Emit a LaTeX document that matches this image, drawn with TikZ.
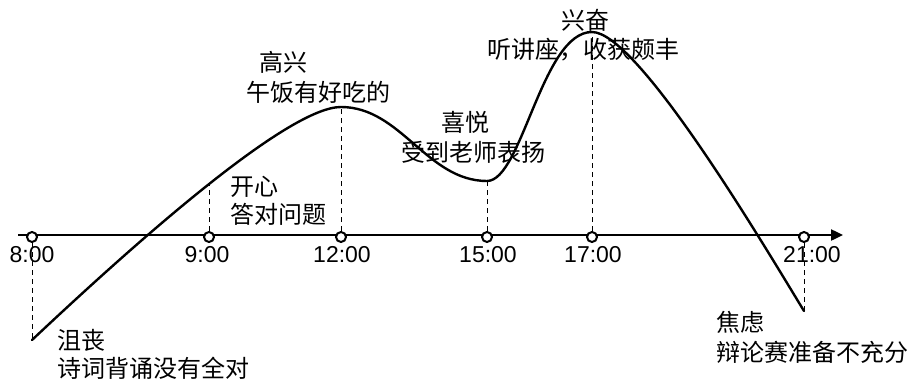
\documentclass[tikz,border=0pt]{standalone}
\usepackage{fontspec}
\setmainfont{Liberation Sans}
\newfontfamily\cjk{Noto Sans CJK SC}
\usetikzlibrary{arrows.meta}
\tikzset{
  axisline/.style={line width=2.4pt},
  moodcurve/.style={line width=2.4pt, line join=round, line cap=round},
  guide/.style={line width=1pt, dash pattern=on 5pt off 4pt},
  tickmark/.style={circle, draw, fill=white, line width=2pt, minimum size=10pt, inner sep=0pt},
  timelbl/.style={inner sep=0pt, font=\fontsize{23}{23}\selectfont},
  moodlbl/.style={anchor=west, inner sep=0pt, font=\cjk\fontsize{24}{24}\selectfont}
}
\begin{document}
\begin{tikzpicture}[x=1pt,y=-1pt]
\useasboundingbox (0,0) rectangle (916,380);
% axis
\coordinate (axS) at (18,235);
\coordinate (axE) at (843,235);
\draw[axisline,-{Triangle[length=12pt,width=11pt]}] (axS) -- (axE);
% curve points
\coordinate (p8) at (32,340);
\coordinate (p9) at (209,183);
\coordinate (p12) at (341,107);
\coordinate (p15) at (487,181);
\coordinate (p17) at (592,32);
\coordinate (p21) at (804,311);
% curve
\draw[moodcurve] (p8) .. controls (152,227) and (291,107) .. (p12)
  .. controls (401,107) and (427,181) .. (p15)
  .. controls (522,181) and (542,32) .. (p17)
  .. controls (637,32) and (759,237) .. (p21);
% ticks
\node[tickmark] (t8) at (32,237) {};
\node[tickmark] (t9) at (209,237) {};
\node[tickmark] (t12) at (341,237) {};
\node[tickmark] (t15) at (487,237) {};
\node[tickmark] (t17) at (592,237) {};
\node[tickmark] (t21) at (804,237) {};
% guides
\draw[guide] (t8.south) -- (p8);
\draw[guide] (t9.north) -- (p9);
\draw[guide] (t12.north) -- (p12);
\draw[guide] (t15.north) -- (p15);
\draw[guide] (t17.north) -- (p17);
\draw[guide] (t21.south) -- (p21);
% time labels
\node[timelbl] (l8) at (32,255) {8:00};
\node[timelbl] (l9) at (207,255) {9:00};
\node[timelbl] (l12) at (342,255) {12:00};
\node[timelbl] (l15) at (488,255) {15:00};
\node[timelbl] (l17) at (593,255) {17:00};
\node[timelbl] (l21) at (812,255) {21:00};
% mood labels
\node[moodlbl] (m8a) at (57,340) {沮丧};
\node[moodlbl] (m8b) at (57,368) {诗词背诵没有全对};
\node[moodlbl] (m9a) at (230,187) {开心};
\node[moodlbl] (m9b) at (230,214) {答对问题};
\node[moodlbl] (m12a) at (259,62) {高兴};
\node[moodlbl] (m12b) at (246,92) {午饭有好吃的};
\node[moodlbl] (m15a) at (441,122) {喜悦};
\node[moodlbl] (m15b) at (401,152) {受到老师表扬};
\node[moodlbl] (m17a) at (561,20) {兴奋};
\node[moodlbl] (m17b) at (487,50) {听讲座，收获颇丰};
\node[moodlbl] (m21a) at (716,322) {焦虑};
\node[moodlbl] (m21b) at (716,352) {辩论赛准备不充分};
\end{tikzpicture}
\end{document}
